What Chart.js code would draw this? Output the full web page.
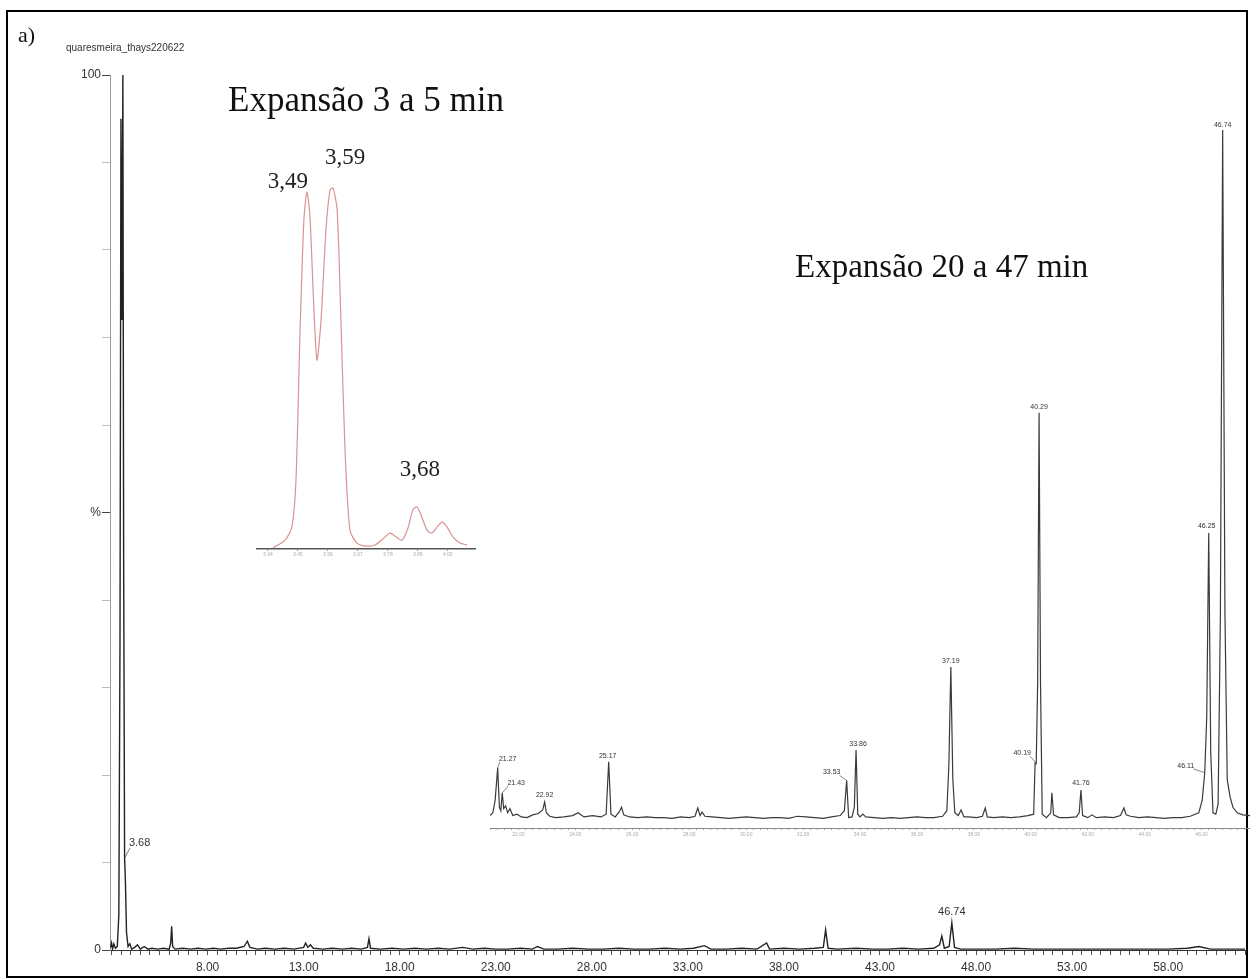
<!DOCTYPE html>
<html>
<head>
<meta charset="utf-8">
<script src="https://cdn.jsdelivr.net/npm/chart.js@4.4.1/dist/chart.umd.min.js"></script>
<style>
  body { margin: 0; background: #fff; }
  #page { position: relative; width: 1250px; height: 979px; overflow: hidden; }
  canvas { position: absolute; }
  .txt { position: absolute; white-space: nowrap; line-height: 1; }
  .serif { font-family: "Liberation Serif", "DejaVu Serif", serif; color: #111; }
  .sans { font-family: "Liberation Sans", Arial, sans-serif; color: #333; }
  #frame { position: absolute; left: 6px; top: 10px; width: 1242px; height: 968px; border: 2px solid #000; box-sizing: border-box; }
</style>
</head>
<body>
<div id="page">
  <div id="frame"></div>
  <canvas id="main-chart" width="1250" height="979" style="left:0;top:0"></canvas>
  <canvas id="inset-early" width="235" height="450" style="left:250px;top:120px"></canvas>
  <canvas id="inset-late" width="770" height="750" style="left:480px;top:100px"></canvas>
  <div class="txt serif" style="left:18px;top:24px;font-size:22px">a)</div>
  <div class="txt sans" style="left:66px;top:43px;font-size:10px">quaresmeira_thays220622</div>
  <div class="txt serif" style="left:228px;top:82px;font-size:35px">Expansão 3 a 5 min</div>
  <div class="txt serif" style="left:795px;top:250px;font-size:33px">Expansão 20 a 47 min</div>
</div>
<script>
// full run, 3 - 62 min
const mainTime = [2.95, 3.00, 3.05, 3.12, 3.20, 3.30, 3.38, 3.44, 3.49, 3.54, 3.59, 3.63, 3.68, 3.72, 3.78, 3.86, 3.95, 4.05, 4.20, 4.35,
  4.50, 4.70, 4.90, 5.10, 5.40, 5.70, 6.00, 6.08, 6.13, 6.18, 6.30, 6.70, 7.10, 7.50, 7.90, 8.30, 8.70, 9.10, 9.50, 9.90,
  10.07, 10.20, 10.60, 11.00, 11.50, 12.00, 12.50, 13.00, 13.10, 13.22, 13.35, 13.50, 14.00, 14.50, 15.00, 15.50, 16.00, 16.32, 16.40, 16.48,
  17.00, 17.60, 18.20, 18.80, 19.40, 20.00, 20.60, 21.27, 21.80, 22.40, 23.00, 23.60, 24.30, 24.90, 25.17, 25.50, 26.20, 27.00, 27.80, 28.60,
  29.40, 30.20, 31.00, 31.80, 32.60, 33.30, 33.86, 34.20, 35.00, 35.80, 36.60, 37.10, 37.25, 38.00, 38.80, 39.60, 40.05, 40.17, 40.30, 40.80,
  41.76, 42.60, 43.40, 44.20, 45.00, 45.80, 46.10, 46.22, 46.35, 46.60, 46.74, 46.88, 47.20, 48.00, 49.00, 50.00, 51.00, 52.00, 53.00, 54.00,
  55.00, 56.00, 57.00, 58.00, 59.00, 59.60, 60.20, 61.00, 62.00];
const mainSignal = [0.3, 0.8, 0.1, 0.7, 0.2, 0.4, 4, 35, 95, 72, 100, 45, 10.5, 8, 2, 0.4, 0.7, 0.1, 0.3, 0.6,
  0.1, 0.4, 0.1, 0.2, 0.1, 0.2, 0.1, 0.8, 2.7, 0.4, 0.1, 0.2, 0.1, 0.2, 0.1, 0.2, 0.1, 0.2, 0.2, 0.4,
  1.0, 0.3, 0.1, 0.2, 0.1, 0.2, 0.1, 0.3, 0.8, 0.3, 0.6, 0.2, 0.1, 0.2, 0.1, 0.2, 0.1, 0.3, 1.3, 0.2,
  0.1, 0.2, 0.1, 0.2, 0.1, 0.2, 0.1, 0.3, 0.1, 0.2, 0.1, 0.1, 0.2, 0.1, 0.4, 0.1, 0.1, 0.2, 0.1, 0.1,
  0.2, 0.1, 0.1, 0.2, 0.1, 0.2, 0.5, 0.1, 0.1, 0.2, 0.1, 0.8, 0.1, 0.2, 0.1, 0.2, 0.3, 2.3, 0.2, 0.1,
  0.2, 0.1, 0.1, 0.2, 0.1, 0.2, 0.6, 1.6, 0.2, 0.4, 3.1, 0.3, 0.1, 0.1, 0.1, 0.2, 0.1, 0.1, 0.1, 0.1,
  0.1, 0.1, 0.1, 0.1, 0.2, 0.4, 0.1, 0.1, 0.1];
const mainXLabels = [8, 13, 18, 23, 28, 33, 38, 43, 48, 53, 58];
const mainYTickValues = [0, 50, 100];
const mainYTickTexts = ["0", "%", "100"];
const mainPeakText = ["3.68", "46.74"];
const mainPeakTime = [3.68, 46.74];
const mainPeakValue = [10.5, 3.1];

// expansion 3 - 5 min
const earlyTime = [3.359, 3.403, 3.428, 3.443, 3.458, 3.472, 3.483, 3.494, 3.509, 3.520, 3.535, 3.553, 3.568, 3.579, 3.594, 3.608, 3.623, 3.641,
  3.667, 3.700, 3.733, 3.766, 3.788, 3.810, 3.832, 3.854, 3.872, 3.887, 3.902, 3.924, 3.942, 3.961, 3.979, 3.997, 4.019, 4.045, 4.071];
const earlySignal = [0.3, 2.4, 6.0, 18.7, 59, 89, 96.7, 90.5, 64.8, 51.2, 62, 86.4, 97.3, 97.8, 91.9, 62, 26.8, 5.1,
  1.6, 0.8, 1.1, 3.0, 4.3, 3.3, 2.4, 5.7, 10.6, 11.4, 9.2, 5.1, 4.3, 6.0, 7.3, 6.0, 3.3, 1.6, 1.1];
const earlyTicks = [3.34, 3.45, 3.56, 3.67, 3.78, 3.89, 4.00];
const earlyPeakText = ["3,49", "3,59", "3,68"];
const earlyPeakTime = [3.483, 3.579, 3.887];
const earlyPeakValue = [96.7, 97.8, 11.4];

// expansion 20 - 47 min
const lateTime = [21.00, 21.10, 21.18, 21.27, 21.33, 21.38, 21.43, 21.48, 21.55, 21.62, 21.70, 21.80, 21.95, 22.10, 22.30, 22.50, 22.70, 22.85, 22.92, 22.98,
  23.10, 23.30, 23.60, 23.90, 24.10, 24.30, 24.60, 24.90, 25.08, 25.17, 25.25, 25.40, 25.55, 25.62, 25.70, 25.90, 26.20, 26.50, 26.80, 27.10,
  27.40, 27.70, 28.00, 28.20, 28.30, 28.38, 28.45, 28.55, 28.80, 29.10, 29.40, 29.70, 30.00, 30.30, 30.60, 30.90, 31.20, 31.50, 31.80, 32.10,
  32.40, 32.70, 33.00, 33.30, 33.45, 33.53, 33.60, 33.72, 33.80, 33.86, 33.92, 34.00, 34.10, 34.20, 34.50, 34.80, 35.10, 35.40, 35.70, 36.00,
  36.30, 36.60, 36.90, 37.05, 37.12, 37.19, 37.26, 37.33, 37.45, 37.55, 37.65, 37.80, 38.10, 38.30, 38.40, 38.47, 38.70, 39.00, 39.30, 39.60,
  39.90, 40.10, 40.15, 40.19, 40.24, 40.29, 40.34, 40.40, 40.55, 40.70, 40.74, 40.80, 41.00, 41.30, 41.60, 41.70, 41.76, 41.82, 42.00, 42.15,
  42.30, 42.60, 42.90, 43.15, 43.27, 43.35, 43.50, 43.80, 44.10, 44.40, 44.70, 45.00, 45.30, 45.60, 45.90, 46.02, 46.11, 46.18, 46.25, 46.32,
  46.40, 46.50, 46.58, 46.66, 46.74, 46.82, 46.90, 47.00, 47.10, 47.25, 47.45, 47.70];
const lateSignal = [0.8, 1.2, 3, 7.7, 2, 1.5, 4.1, 1.8, 2.2, 1.2, 1.8, 0.8, 1.0, 0.6, 0.5, 0.9, 1.1, 1.6, 2.75, 1.2,
  0.7, 0.5, 0.6, 0.8, 1.2, 0.6, 0.8, 0.6, 1.0, 8.6, 1.0, 0.6, 1.4, 2.0, 0.9, 0.6, 0.5, 0.6, 0.5, 0.5,
  0.4, 0.6, 0.5, 0.7, 1.9, 0.8, 1.3, 0.7, 0.6, 0.5, 0.4, 0.5, 0.6, 0.5, 0.4, 0.5, 0.5, 0.4, 0.7, 0.6,
  0.5, 0.4, 0.6, 0.8, 1.5, 5.9, 0.5, 0.6, 2, 10.3, 1.0, 0.6, 1.0, 0.6, 0.5, 0.4, 0.5, 0.4, 0.5, 0.6,
  0.5, 0.5, 0.7, 1.5, 8, 22.3, 6, 1.2, 0.8, 1.6, 0.6, 0.6, 0.5, 0.7, 1.9, 0.6, 0.5, 0.6, 0.5, 0.6,
  0.8, 1.0, 8.4, 8.3, 20, 59.1, 20, 1.0, 0.5, 1.2, 4.1, 0.9, 0.5, 0.5, 0.6, 1.2, 4.5, 0.8, 0.5, 0.9,
  0.5, 0.6, 0.5, 0.8, 1.9, 0.9, 0.7, 0.5, 0.6, 0.5, 0.4, 0.5, 0.5, 0.7, 1.2, 3, 7, 15, 41.7, 10,
  1.2, 1.0, 2.5, 30, 100, 30, 6, 3.5, 2, 1.2, 0.9, 0.8];
const lateTicks = [22, 24, 26, 28, 30, 32, 34, 36, 38, 40, 42, 44, 46];
const latePeakText = ["21.27", "21.43", "22.92", "25.17", "33.53", "33.86", "37.19", "40.19", "40.29", "41.76", "46.11", "46.25", "46.74"];
const latePeakTime = [21.27, 21.43, 22.92, 25.17, 33.53, 33.86, 37.19, 40.19, 40.29, 41.76, 46.11, 46.25, 46.74];
const latePeakValue = [7.7, 4.1, 2.75, 8.6, 5.9, 10.3, 22.3, 8.4, 59.1, 4.5, 7, 41.7, 100];

function toPoints(xs, ys) {
  return xs.map((x, i) => ({ x: x, y: ys[i] }));
}

// draws the retention time labels over the peaks
const peakLabels = {
  id: "peakLabels",
  afterDatasetsDraw(chart, args, opts) {
    const ctx = chart.ctx;
    const xs = chart.scales.x;
    const ys = chart.scales.y;
    ctx.save();
    ctx.font = opts.font;
    ctx.fillStyle = opts.color;
    ctx.strokeStyle = opts.lineColor;
    ctx.lineWidth = 0.8;
    ctx.textAlign = "center";
    ctx.textBaseline = "middle";
    opts.text.forEach((txt, i) => {
      const px = xs.getPixelForValue(opts.time[i]);
      const py = ys.getPixelForValue(opts.value[i]);
      const off = opts.offset[i];
      const lx = px + off[0];
      const ly = py + off[1];
      ctx.fillText(txt, lx, ly);
      if (off[2]) {
        const w = ctx.measureText(txt).width;
        const ex = lx - Math.sign(off[0]) * w * 0.45;
        ctx.beginPath();
        ctx.moveTo(ex, ly + opts.size * 0.45);
        ctx.lineTo(px, py);
        ctx.stroke();
      }
    });
    ctx.restore();
  }
};

new Chart(document.getElementById("main-chart"), {
  type: "line",
  data: {
    datasets: [{
      data: toPoints(mainTime, mainSignal),
      borderColor: "#222",
      borderWidth: 1.4,
      pointRadius: 0,
      tension: 0
    }]
  },
  options: {
    responsive: false,
    animation: false,
    layout: { padding: { top: 75, right: 2 } },
    plugins: {
      legend: { display: false },
      tooltip: { enabled: false },
      peakLabels: {
        text: mainPeakText, time: mainPeakTime, value: mainPeakValue,
        offset: [[15, -15, true], [0, -11, false]],
        font: "11px 'Liberation Sans', Arial, sans-serif", size: 11,
        color: "#333", lineColor: "#555"
      }
    },
    scales: {
      x: {
        type: "linear",
        min: 2.92,
        max: 62,
        afterBuildTicks: (s) => {
          const t = [];
          for (let v = 3; v <= 62; v += 0.5) t.push({ value: v });
          s.ticks = t;
        },
        afterFit: (s) => { s.height = 29; },
        ticks: {
          autoSkip: false,
          maxRotation: 0,
          padding: 5,
          color: "#333",
          font: { family: "'Liberation Sans', Arial, sans-serif", size: 12 },
          callback: (v) => mainXLabels.some(l => Math.abs(l - v) < 1e-6) ? v.toFixed(2) : ""
        },
        grid: { drawOnChartArea: false, tickLength: 5, color: "#555" },
        border: { color: "#333", width: 1 }
      },
      y: {
        min: 0,
        max: 100,
        afterBuildTicks: (s) => {
          const t = [];
          for (let v = 0; v <= 100; v += 10) t.push({ value: v });
          s.ticks = t;
        },
        afterFit: (s) => { s.width = 110; },
        ticks: {
          autoSkip: false,
          padding: 1,
          color: "#333",
          font: { family: "'Liberation Sans', Arial, sans-serif", size: 12 },
          callback: (v) => {
            const k = mainYTickValues.indexOf(v);
            return k >= 0 ? mainYTickTexts[k] : "";
          }
        },
        grid: {
          drawOnChartArea: false,
          tickLength: 8,
          color: (c) => mainYTickValues.includes(c.tick.value) ? "#444" : "#bbb"
        },
        border: { color: "#999", width: 1 }
      }
    }
  },
  plugins: [peakLabels]
});

new Chart(document.getElementById("inset-early"), {
  type: "line",
  data: {
    datasets: [{
      data: toPoints(earlyTime, earlySignal),
      borderColor: "rgba(205,110,110,0.75)",
      borderWidth: 1.2,
      pointRadius: 0,
      tension: 0.25
    }]
  },
  options: {
    responsive: false,
    animation: false,
    layout: { padding: { left: 7, right: 10, top: 60 } },
    plugins: {
      legend: { display: false },
      tooltip: { enabled: false },
      peakLabels: {
        text: earlyPeakText, time: earlyPeakTime, value: earlyPeakValue,
        offset: [[-19, -10, false], [12, -30, false], [3, -37, false]],
        font: "23px 'Liberation Serif', 'DejaVu Serif', serif", size: 23,
        color: "#222", lineColor: "#555"
      }
    },
    scales: {
      x: {
        type: "linear",
        min: 3.30,
        max: 4.10,
        afterBuildTicks: (s) => { s.ticks = earlyTicks.map(v => ({ value: v })); },
        afterFit: (s) => { s.height = 21; },
        ticks: {
          autoSkip: false,
          maxRotation: 0,
          padding: 1,
          color: "#aaa",
          font: { family: "'Liberation Sans', Arial, sans-serif", size: 5 },
          callback: (v) => v.toFixed(2)
        },
        grid: { drawOnChartArea: false, tickLength: 2, color: "#999" },
        border: { color: "#555", width: 1.5 }
      },
      y: { display: false, min: 0, max: 100 }
    }
  },
  plugins: [peakLabels]
});

new Chart(document.getElementById("inset-late"), {
  type: "line",
  data: {
    datasets: [{
      data: toPoints(lateTime, lateSignal),
      borderColor: "#3a3a3a",
      borderWidth: 1.2,
      pointRadius: 0,
      tension: 0
    }]
  },
  options: {
    responsive: false,
    animation: false,
    layout: { padding: { left: 10, right: 0, top: 30 } },
    plugins: {
      legend: { display: false },
      tooltip: { enabled: false },
      peakLabels: {
        text: latePeakText, time: latePeakTime, value: latePeakValue,
        offset: [[10, -9, true], [14, -10, true], [0, -7, false], [-1, -6, false], [-15, -8, true], [2, -6, false],
          [0, -6, false], [-14, -10, true], [0, -6, false], [0, -7, false], [-19, -7, true], [-2, -7, false], [0, -5, false]],
        font: "7px 'Liberation Sans', Arial, sans-serif", size: 7,
        color: "#333", lineColor: "#666"
      }
    },
    scales: {
      x: {
        type: "linear",
        min: 21.0,
        max: 47.7,
        afterBuildTicks: (s) => {
          const t = [];
          for (let v = 21; v <= 47.7; v += 0.25) t.push({ value: v });
          s.ticks = t;
        },
        afterFit: (s) => { s.height = 22; },
        ticks: {
          autoSkip: false,
          maxRotation: 0,
          padding: 2,
          color: "#aaa",
          font: { family: "'Liberation Sans', Arial, sans-serif", size: 5 },
          callback: (v) => lateTicks.some(l => Math.abs(l - v) < 1e-6) ? v.toFixed(2) : ""
        },
        grid: { drawOnChartArea: false, tickLength: 2, color: "#aaa" },
        border: { color: "#888", width: 1 }
      },
      y: { display: false, min: -1, max: 100 }
    }
  },
  plugins: [peakLabels]
});
</script>
</body>
</html>
